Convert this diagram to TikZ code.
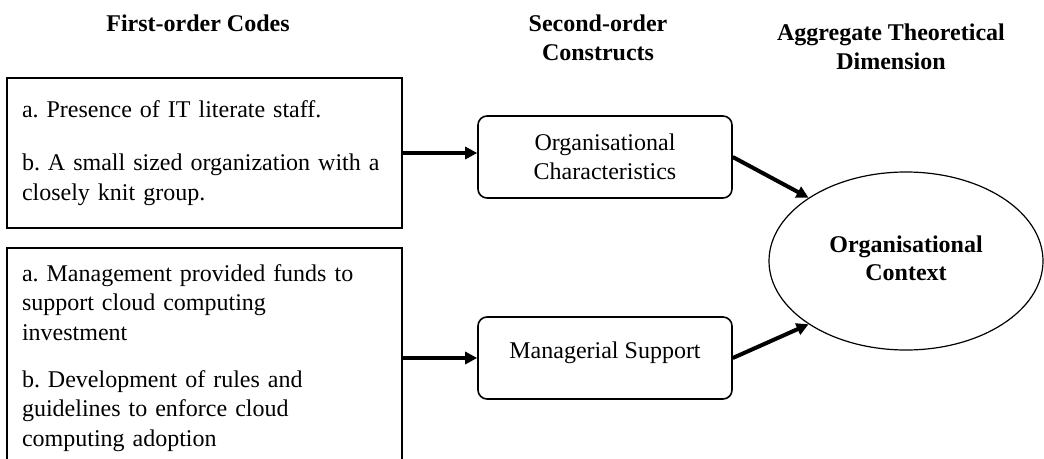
\documentclass[tikz,border=0pt]{standalone}
\usepackage{fontspec}
\setmainfont{Liberation Serif}
\usetikzlibrary{positioning,shapes,arrows.meta}
\tikzset{code/.style={draw, line width=1.6pt, rectangle, minimum width=395pt, text width=365pt, align=left, inner xsep=15pt, inner ysep=0pt, font=\fontsize{24}{29.5}\selectfont\frenchspacing},
         cons/.style={draw, line width=1.6pt, rectangle, rounded corners=9pt, minimum width=254pt, minimum height=82pt, align=center, font=\fontsize{24}{29}\selectfont},
         dim/.style={draw, line width=1.2pt, ellipse, minimum width=274pt, minimum height=178pt, inner sep=0pt, align=center, font=\fontsize{24}{29}\selectfont\bfseries},
         head/.style={align=center, font=\fontsize{24}{29.5}\selectfont\bfseries},
         post/.style={-{Triangle[length=12pt,width=12pt]}, line width=4pt}
}
\begin{document}
\begin{tikzpicture}[x=1pt,y=-1pt]
  \useasboundingbox (0,0) rectangle (1044,458);
  \clip (0,0) rectangle (1044,458);
  % column headings
  \node[head] (h1) at (198,23) {First-order Codes};
  \node[head] (h2) at (598,38) {Second-order\\Constructs};
  \node[head] (h3) at (891,47) {Aggregate Theoretical\\Dimension};
  % first-order codes
  \node[code, minimum height=150pt] (c1) at (204.5,153) {a. Presence of IT literate staff.\\[23.5pt]
    b. A small sized organization with a\\closely knit group.};
  \node[code, minimum height=220pt] (c2) at (204.5,358) {a. Management provided funds to\\support cloud computing\\investment\\[17.5pt]
    b. Development of rules and\\guidelines to enforce cloud\\computing adoption};
  % second-order constructs
  \node[cons] (oc) at (605,157) {Organisational\\Characteristics};
  \node[cons, text depth=16pt] (ms) at (605,358) {Managerial Support};
  % aggregate dimension
  \node[dim] (ctx) at (906,261) {\raisebox{6pt}{\begin{tabular}{@{}c@{}}Organisational\\[-1pt]Context\end{tabular}}};
  \draw[post] (c1.east) -- (c1.east -| oc.west);
  \draw[post] (c2.east) -- (c2.east -| ms.west);
  \draw[post] (oc.east) -- (ctx.147);
  \draw[post] (ms.east) -- (ctx.213);
\end{tikzpicture}
\end{document}
